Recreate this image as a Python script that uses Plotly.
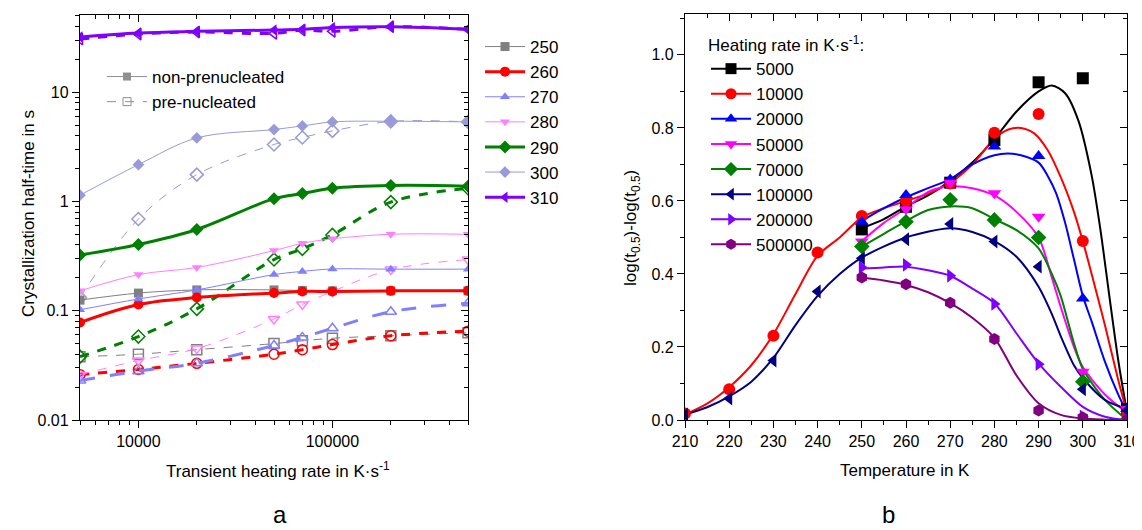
import numpy as np
import plotly.graph_objects as go

# ---------------- panel a data: half-time vs heating rate ----------------
rates = [5000, 10000, 20000, 50000, 70000, 100000, 200000, 500000]

t250 = [0.125, 0.145, 0.155, 0.155, 0.153, 0.152, 0.152, 0.152]
t250_pre = [0.038, 0.040, 0.044, 0.050, 0.053, 0.056, 0.059, 0.063]
t260 = [0.078, 0.114, 0.132, 0.145, 0.150, 0.150, 0.152, 0.152]
t260_pre = [0.026, 0.029, 0.033, 0.040, 0.044, 0.049, 0.059, 0.065]
t270 = [0.102, 0.128, 0.155, 0.214, 0.229, 0.241, 0.240, 0.240]
t270_pre = [0.023, 0.028, 0.033, 0.048, 0.057, 0.069, 0.098, 0.117]
t280 = [0.152, 0.214, 0.249, 0.355, 0.414, 0.455, 0.501, 0.500]
t280_pre = [0.026, 0.035, 0.045, 0.084, 0.114, 0.150, 0.238, 0.294]
t290 = [0.324, 0.404, 0.554, 1.06, 1.18, 1.32, 1.40, 1.38]
t290_pre = [0.038, 0.058, 0.104, 0.294, 0.368, 0.494, 0.986, 1.32]
t300 = [1.14, 2.17, 3.81, 4.55, 4.91, 5.34, 5.42, 5.34]
t300_pre = [0.132, 0.69, 1.76, 3.32, 3.85, 4.42, 5.40, 5.34]
t310 = [32.0, 34.8, 36.0, 37.0, 37.6, 39.0, 39.7, 37.6]
t310_pre = [30.6, 34.0, 35.5, 34.5, 37.0, 36.0, 39.7, 37.6]

# ---------------- panel b data: log difference vs temperature ----------------
temps_full = [210, 220, 230, 240, 250, 260, 270, 280, 290, 300, 310]
temps_hi = [250, 260, 270, 280, 290, 300, 310]

d5000 = [0.522, 0.584, 0.65, 0.767, 0.925, 0.936, 0.03]
d10000 = [0.018, 0.084, 0.231, 0.459, 0.559, 0.60, 0.648, 0.787, 0.838, 0.490, 0.02]
d20000 = [0.543, 0.616, 0.659, 0.749, 0.723, 0.333, 0.03]
d50000 = [0.489, 0.577, 0.65, 0.621, 0.557, 0.132, 0.03]
d70000 = [0.475, 0.543, 0.603, 0.548, 0.50, 0.105, 0.0]
d100000 = [0.015, 0.059, 0.163, 0.352, 0.443, 0.495, 0.537, 0.489, 0.42, 0.084, 0.027]
d200000 = [0.418, 0.425, 0.395, 0.318, 0.153, 0.01, 0.0]
d500000 = [0.39, 0.372, 0.321, 0.222, 0.026, 0.007, 0.0]

# fitted curves
fit5000_T = [250, 255, 260, 265, 270, 275, 280, 285, 290, 293, 296, 299, 302, 304, 306, 308, 310]
fit5000 = [0.525, 0.55, 0.585, 0.615, 0.655, 0.705, 0.77, 0.845, 0.90, 0.916, 0.895, 0.82, 0.67, 0.52, 0.34, 0.165, 0.02]
fit10000_T = [210, 215, 220, 225, 230, 235, 240, 245, 250, 255, 260, 265, 270, 275, 280, 283, 286, 289, 292, 295, 298, 300, 302, 305, 308, 310]
fit10000 = [0.015, 0.045, 0.09, 0.15, 0.235, 0.345, 0.45, 0.50, 0.555, 0.58, 0.60, 0.62, 0.65, 0.70, 0.77, 0.795, 0.80, 0.785, 0.74, 0.665, 0.57, 0.49, 0.40, 0.26, 0.11, 0.02]
fit20000_T = [250, 255, 260, 265, 270, 275, 280, 283, 286, 290, 292, 294, 296, 298, 300, 302, 305, 308, 310]
fit20000 = [0.545, 0.58, 0.61, 0.635, 0.66, 0.70, 0.725, 0.73, 0.725, 0.705, 0.67, 0.62, 0.54, 0.44, 0.34, 0.27, 0.16, 0.07, 0.02]
fit50000_T = [250, 255, 260, 265, 270, 275, 280, 285, 290, 293, 295, 298, 300, 305, 310]
fit50000 = [0.49, 0.54, 0.58, 0.625, 0.64, 0.635, 0.615, 0.57, 0.50, 0.39, 0.31, 0.20, 0.145, 0.07, 0.02]
fit70000_T = [250, 255, 260, 265, 270, 275, 280, 285, 290, 293, 295, 298, 300, 305, 310]
fit70000 = [0.475, 0.51, 0.545, 0.575, 0.585, 0.58, 0.55, 0.52, 0.47, 0.40, 0.34, 0.21, 0.14, 0.055, 0.0]
fit100000_T = [210, 215, 220, 225, 230, 235, 240, 245, 250, 260, 270, 275, 280, 285, 290, 293, 295, 298, 300, 305, 310]
fit100000 = [0.015, 0.035, 0.065, 0.105, 0.17, 0.26, 0.34, 0.40, 0.445, 0.50, 0.525, 0.515, 0.49, 0.447, 0.365, 0.29, 0.23, 0.15, 0.115, 0.055, 0.03]
fit200000_T = [250, 255, 260, 265, 270, 275, 280, 285, 290, 295, 300, 305, 310]
fit200000 = [0.415, 0.418, 0.42, 0.41, 0.395, 0.36, 0.32, 0.237, 0.155, 0.091, 0.036, 0.009, 0.0]
fit500000_T = [250, 255, 260, 265, 270, 275, 280, 285, 290, 295, 300, 305, 310]
fit500000 = [0.39, 0.382, 0.37, 0.35, 0.32, 0.28, 0.225, 0.122, 0.046, 0.014, 0.004, 0.001, 0.0]

FONT = "Arial, Liberation Sans, sans-serif"
OFF = 8  # page body margin of the html page
W, H = 1142 - OFF, 530 - OFF


def px_x(p):
    return (p - OFF) / W


def px_y(p):
    return 1 - (p - OFF) / H


fig = go.Figure()

# panel a series: (label, colour, symbol, solid data, solid width, pre data, pre width, pre dash)
series_a = [
    ("250", "#808080", "square", t250, 1, t250_pre, 1, "dash"),
    ("260", "#ff0000", "circle", t260, 3, t260_pre, 3, "dash"),
    ("270", "#8080ff", "triangle-up", t270, 1, t270_pre, 3, "longdash"),
    ("280", "#ff80ff", "triangle-down", t280, 1, t280_pre, 1, "dash"),
    ("290", "#008000", "diamond", t290, 3, t290_pre, 3, "dash"),
    ("300", "#9a9ad8", "diamond", t300, 1, t300_pre, 1, "dash"),
    ("310", "#8000ff", "triangle-left", t310, 3, t310_pre, 3, "dash"),
]

for name, col, sym, y, lw, ypre, lwp, dash in series_a:
    fig.add_trace(go.Scatter(
        x=rates, y=ypre, mode="lines+markers", xaxis="x", yaxis="y",
        line=dict(color=col, width=lwp, dash=dash, shape="spline"),
        marker=dict(symbol=sym + "-open", size=10, color=col, line=dict(width=1.5, color=col)),
        showlegend=False))
for name, col, sym, y, lw, ypre, lwp, dash in series_a:
    fig.add_trace(go.Scatter(
        x=rates, y=y, mode="lines+markers", xaxis="x", yaxis="y", name=name,
        line=dict(color=col, width=lw, shape="spline"),
        marker=dict(symbol=sym, size=10 if lw > 1 else 9, color=col),
        legend="legend2"))

# non/pre-nucleated key
fig.add_trace(go.Scatter(x=[None], y=[None], mode="lines+markers", name="non-prenucleated",
                         line=dict(color="#909090", width=1),
                         marker=dict(symbol="square", size=8, color="#909090"), legend="legend3"))
fig.add_trace(go.Scatter(x=[None], y=[None], mode="lines+markers", name="pre-nucleated",
                         line=dict(color="#909090", width=1, dash="dash"),
                         marker=dict(symbol="square-open", size=8, color="#909090"), legend="legend3"))

# panel b series
series_b = [
    ("5000", "#000000", "square", temps_hi, d5000, fit5000_T, fit5000),
    ("10000", "#ff0000", "circle", temps_full, d10000, fit10000_T, fit10000),
    ("20000", "#0000ff", "triangle-up", temps_hi, d20000, fit20000_T, fit20000),
    ("50000", "#ff00ff", "triangle-down", temps_hi, d50000, fit50000_T, fit50000),
    ("70000", "#008000", "diamond", temps_hi, d70000, fit70000_T, fit70000),
    ("100000", "#000080", "triangle-left", temps_full, d100000, fit100000_T, fit100000),
    ("200000", "#8000ff", "triangle-right", temps_hi, d200000, fit200000_T, fit200000),
    ("500000", "#800080", "hexagon", temps_hi, d500000, fit500000_T, fit500000),
]
for name, col, sym, tx, dy, ft, fv in series_b:
    fig.add_trace(go.Scatter(x=ft, y=fv, mode="lines", xaxis="x2", yaxis="y2",
                             line=dict(color=col, width=2, shape="spline", smoothing=0.8),
                             showlegend=False))
for name, col, sym, tx, dy, ft, fv in series_b:
    fig.add_trace(go.Scatter(x=tx, y=dy, mode="markers", xaxis="x2", yaxis="y2",
                             marker=dict(symbol=sym, size=12, color=col), showlegend=False))
for name, col, sym, tx, dy, ft, fv in series_b:
    fig.add_trace(go.Scatter(x=[None], y=[None], mode="lines+markers", xaxis="x2", yaxis="y2",
                             name=name, line=dict(color=col, width=2),
                             marker=dict(symbol=sym, size=11, color=col), legend="legend"))

# dummy traces so the mirrored (inward tick) axes get drawn
fig.add_trace(go.Scatter(x=[None], y=[None], xaxis="x3", yaxis="y3", showlegend=False))
fig.add_trace(go.Scatter(x=[None], y=[None], xaxis="x4", yaxis="y4", showlegend=False))

xa_dom = [px_x(80), px_x(468)]
ya_dom = [px_y(420), px_y(15)]
xb_dom = [px_x(685), px_x(1127)]
yb_dom = [px_y(420), px_y(14)]
xa_rng = [np.log10(5000), np.log10(500000)]
ya_rng = [-2, 1.706]
xb_rng = [210, 310]
yb_rng = [0, 1.112]

tickfont = dict(family=FONT, size=16, color="#000")
base = dict(showgrid=False, zeroline=False, linecolor="#000", linewidth=1.3,
            tickcolor="#000", tickfont=tickfont, automargin=False)

layout_axes = dict(
    xaxis=dict(base, type="log", domain=xa_dom, range=xa_rng, anchor="y",
               showline=True, mirror=True, ticks="outside", ticklen=7,
               tickvals=[1e4, 1e5], ticktext=["10000", "100000"],
               minor=dict(ticks="outside", ticklen=4, dtick="D1", tickcolor="#000")),
    yaxis=dict(base, type="log", domain=ya_dom, range=ya_rng, anchor="x",
               showline=True, mirror=True, ticks="outside", ticklen=7,
               tickvals=[0.01, 0.1, 1, 10], ticktext=["0.01", "0.1", "1", "10"],
               minor=dict(ticks="outside", ticklen=4, dtick="D1", tickcolor="#000")),
    xaxis3=dict(base, type="log", range=xa_rng, overlaying="x", side="top", anchor="y3",
                showline=False, ticks="inside", ticklen=7, showticklabels=False,
                tickvals=[1e4, 1e5],
                minor=dict(ticks="inside", ticklen=4, dtick="D1", tickcolor="#000")),
    yaxis3=dict(base, type="log", range=ya_rng, overlaying="y", side="right", anchor="x3",
                showline=False, ticks="inside", ticklen=7, showticklabels=False,
                tickvals=[0.01, 0.1, 1, 10],
                minor=dict(ticks="inside", ticklen=4, dtick="D1", tickcolor="#000")),
    xaxis2=dict(base, domain=xb_dom, range=xb_rng, anchor="y2",
                showline=True, mirror=True, ticks="outside", ticklen=7, dtick=10,
                minor=dict(ticks="outside", ticklen=4, dtick=5, tickcolor="#000")),
    yaxis2=dict(base, domain=yb_dom, range=yb_rng, anchor="x2",
                showline=True, mirror=True, ticks="outside", ticklen=7, dtick=0.2,
                tickformat=".1f",
                minor=dict(ticks="outside", ticklen=4, dtick=0.1, tickcolor="#000")),
    xaxis4=dict(base, range=xb_rng, overlaying="x2", side="top", anchor="y4",
                showline=False, ticks="inside", ticklen=7, dtick=10, showticklabels=False,
                minor=dict(ticks="inside", ticklen=4, dtick=5, tickcolor="#000")),
    yaxis4=dict(base, range=yb_rng, overlaying="y2", side="right", anchor="x4",
                showline=False, ticks="inside", ticklen=7, dtick=0.2, showticklabels=False,
                minor=dict(ticks="inside", ticklen=4, dtick=0.1, tickcolor="#000")),
)

legend_font = dict(family=FONT, size=17, color="#000")
fig.update_layout(
    width=W, height=H,
    margin=dict(l=0, r=0, t=0, b=0, autoexpand=False),
    paper_bgcolor="white", plot_bgcolor="rgba(0,0,0,0)",
    font=dict(family=FONT, color="#000"),
    **layout_axes,
    legend=dict(x=px_x(706), y=px_y(29), xanchor="left", yanchor="top",
                bgcolor="rgba(0,0,0,0)", font=dict(family=FONT, size=17, color="#000"),
                title=dict(text="Heating rate in K·s<sup>-1</sup>:",
                           font=dict(family=FONT, size=17, color="#000")),
                tracegroupgap=0, itemwidth=40),
    legend2=dict(x=px_x(480), y=px_y(29), xanchor="left", yanchor="top",
                 bgcolor="rgba(0,0,0,0)", font=legend_font, itemwidth=40),
    legend3=dict(x=px_x(102), y=px_y(59), xanchor="left", yanchor="top",
                 bgcolor="rgba(0,0,0,0)", font=legend_font, itemwidth=40),
)

ann_font = dict(family=FONT, size=17, color="#000")
ann = dict(xref="paper", yref="paper", showarrow=False, xanchor="center", yanchor="middle")
fig.add_annotation(text="Crystallization half-time in s", x=px_x(28), y=px_y(214),
                   textangle=-90, font=ann_font, **ann)
fig.add_annotation(text="Transient heating rate in K·s<sup>-1</sup>", x=px_x(278), y=px_y(470),
                   font=ann_font, **ann)
fig.add_annotation(text="log(t<sub>0.5</sub>)-log(t<sub>0.5</sub>)", x=px_x(632), y=px_y(228),
                   textangle=-90, font=ann_font, **ann)
fig.add_annotation(text="Temperature in K", x=px_x(905), y=px_y(470),
                   font=ann_font, **ann)
fig.add_annotation(text="a", x=px_x(280), y=px_y(514),
                   font=dict(family=FONT, size=24, color="#000"), **ann)
fig.add_annotation(text="b", x=px_x(888), y=px_y(514),
                   font=dict(family=FONT, size=24, color="#000"), **ann)

fig.write_html("out.html")
